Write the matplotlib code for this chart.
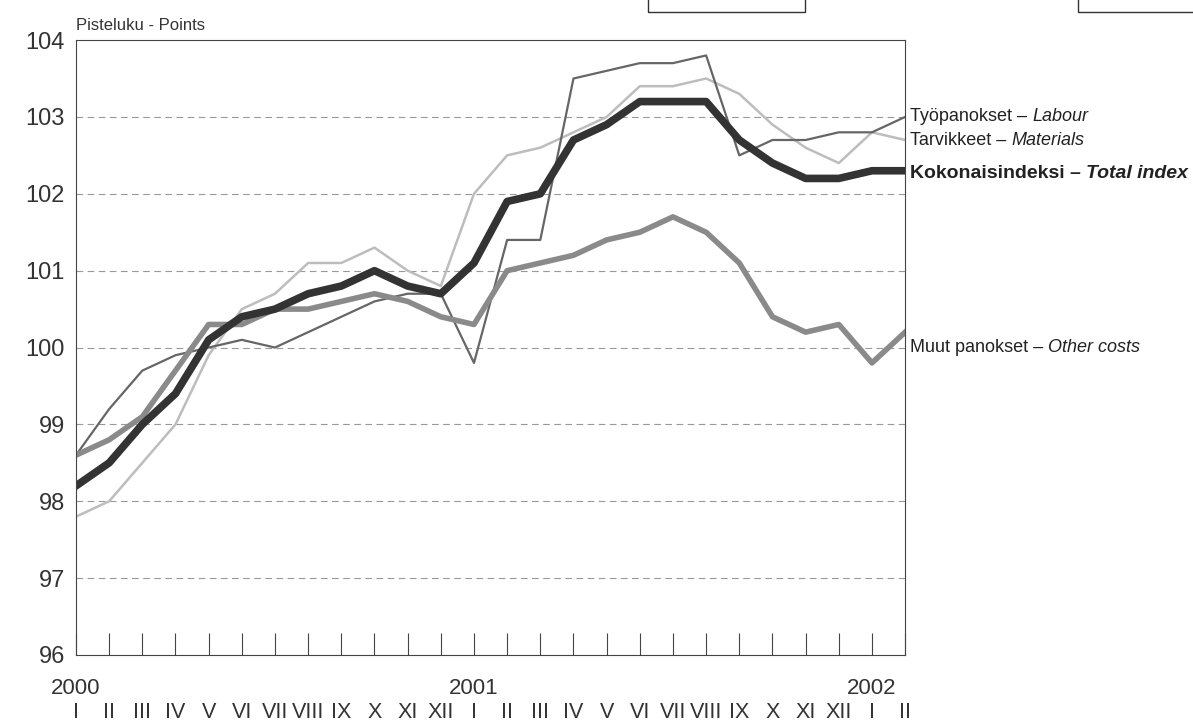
import matplotlib
matplotlib.use("Agg")
import matplotlib.pyplot as plt
from matplotlib.patches import Rectangle

plt.rcParams['font.family'] = ['Liberation Sans', 'DejaVu Sans']

months = ["I","II","III","IV","V","VI","VII","VIII","IX","X","XI","XII",
          "I","II","III","IV","V","VI","VII","VIII","IX","X","XI","XII","I","II"]
years = ["2000", "2001", "2002"]
total = [98.2,98.5,99.0,99.4,100.1,100.4,100.5,100.7,100.8,101.0,100.8,100.7,
         101.1,101.9,102.0,102.7,102.9,103.2,103.2,103.2,102.7,102.4,102.2,102.2,102.3,102.3]
labour = [98.6,99.2,99.7,99.9,100.0,100.1,100.0,100.2,100.4,100.6,100.7,100.7,
          99.8,101.4,101.4,103.5,103.6,103.7,103.7,103.8,102.5,102.7,102.7,102.8,102.8,103.0]
materials = [97.8,98.0,98.5,99.0,99.9,100.5,100.7,101.1,101.1,101.3,101.0,100.8,
             102.0,102.5,102.6,102.8,103.0,103.4,103.4,103.5,103.3,102.9,102.6,102.4,102.8,102.7]
other = [98.6,98.8,99.1,99.7,100.3,100.3,100.5,100.5,100.6,100.7,100.6,100.4,
         100.3,101.0,101.1,101.2,101.4,101.5,101.7,101.5,101.1,100.4,100.2,100.3,99.8,100.2]

fig = plt.figure(figsize=(11.93, 7.26), dpi=100)
ax = fig.add_axes([0.0637, 0.0978, 0.695, 0.847])
x = list(range(len(months)))
ax.plot(x, materials, color="#bdbdbd", lw=1.8)
ax.plot(x, labour, color="#666666", lw=1.6)
ax.plot(x, other, color="#8a8a8a", lw=4)
ax.plot(x, total, color="#333333", lw=5.5)
ax.set_xlim(0, 25)
ax.set_ylim(96, 104)
ax.set_yticks(range(96, 105))
ax.tick_params(axis="y", labelsize=17, length=0, pad=8, colors="#333333")
for y in range(97, 104):
    ax.axhline(y, color="#999999", lw=0.8, ls=(0, (6, 4)), zorder=0)
ax.set_xticks(x)
ax.set_xticklabels([])
ax.tick_params(axis="x", direction="in", length=16, color="#444444")
tr = ax.get_xaxis_transform()
for xi, m in zip(x, months):
    ax.text(xi, -0.093, m, transform=tr, ha="center", va="center", fontsize=15.5, color="#333333")
for xi, yr in zip([0, 12, 24], years):
    ax.text(xi, -0.055, yr, transform=tr, ha="center", va="center", fontsize=16, color="#333333")
for s in ax.spines.values():
    s.set_color("#444444")
ax.text(0.0, 1.012, "Pisteluku - Points", transform=ax.transAxes, fontsize=12, color="#333333", va="bottom")

fig.canvas.draw()
renderer = fig.canvas.get_renderer()
def label(y, a, b, size=13, bold=False):
    t = ax.text(25.15, y, a, fontsize=size, weight="bold" if bold else "normal",
                color="#222222", va="center", clip_on=False)
    bb = t.get_window_extent(renderer)
    xd = ax.transData.inverted().transform((bb.x1, 0))[0]
    ax.text(xd, y, b, fontsize=size, weight="bold" if bold else "normal", style="italic",
            color="#222222", va="center", clip_on=False)

label(103.0, "Työpanokset – ", "Labour")
label(102.7, "Tarvikkeet – ", "Materials")
label(102.27, "Kokonaisindeksi – ", "Total index", size=14, bold=True)
label(100.0, "Muut panokset – ", "Other costs")

fig.patches.append(Rectangle((648/1193, 1-12/726), 157/1193, 0.03, transform=fig.transFigure, fill=False, ec="#333333", lw=1))
fig.patches.append(Rectangle((1078/1193, 1-12/726), 0.1, 0.03, transform=fig.transFigure, fill=False, ec="#333333", lw=1))
fig.savefig("out.png", dpi=100)
